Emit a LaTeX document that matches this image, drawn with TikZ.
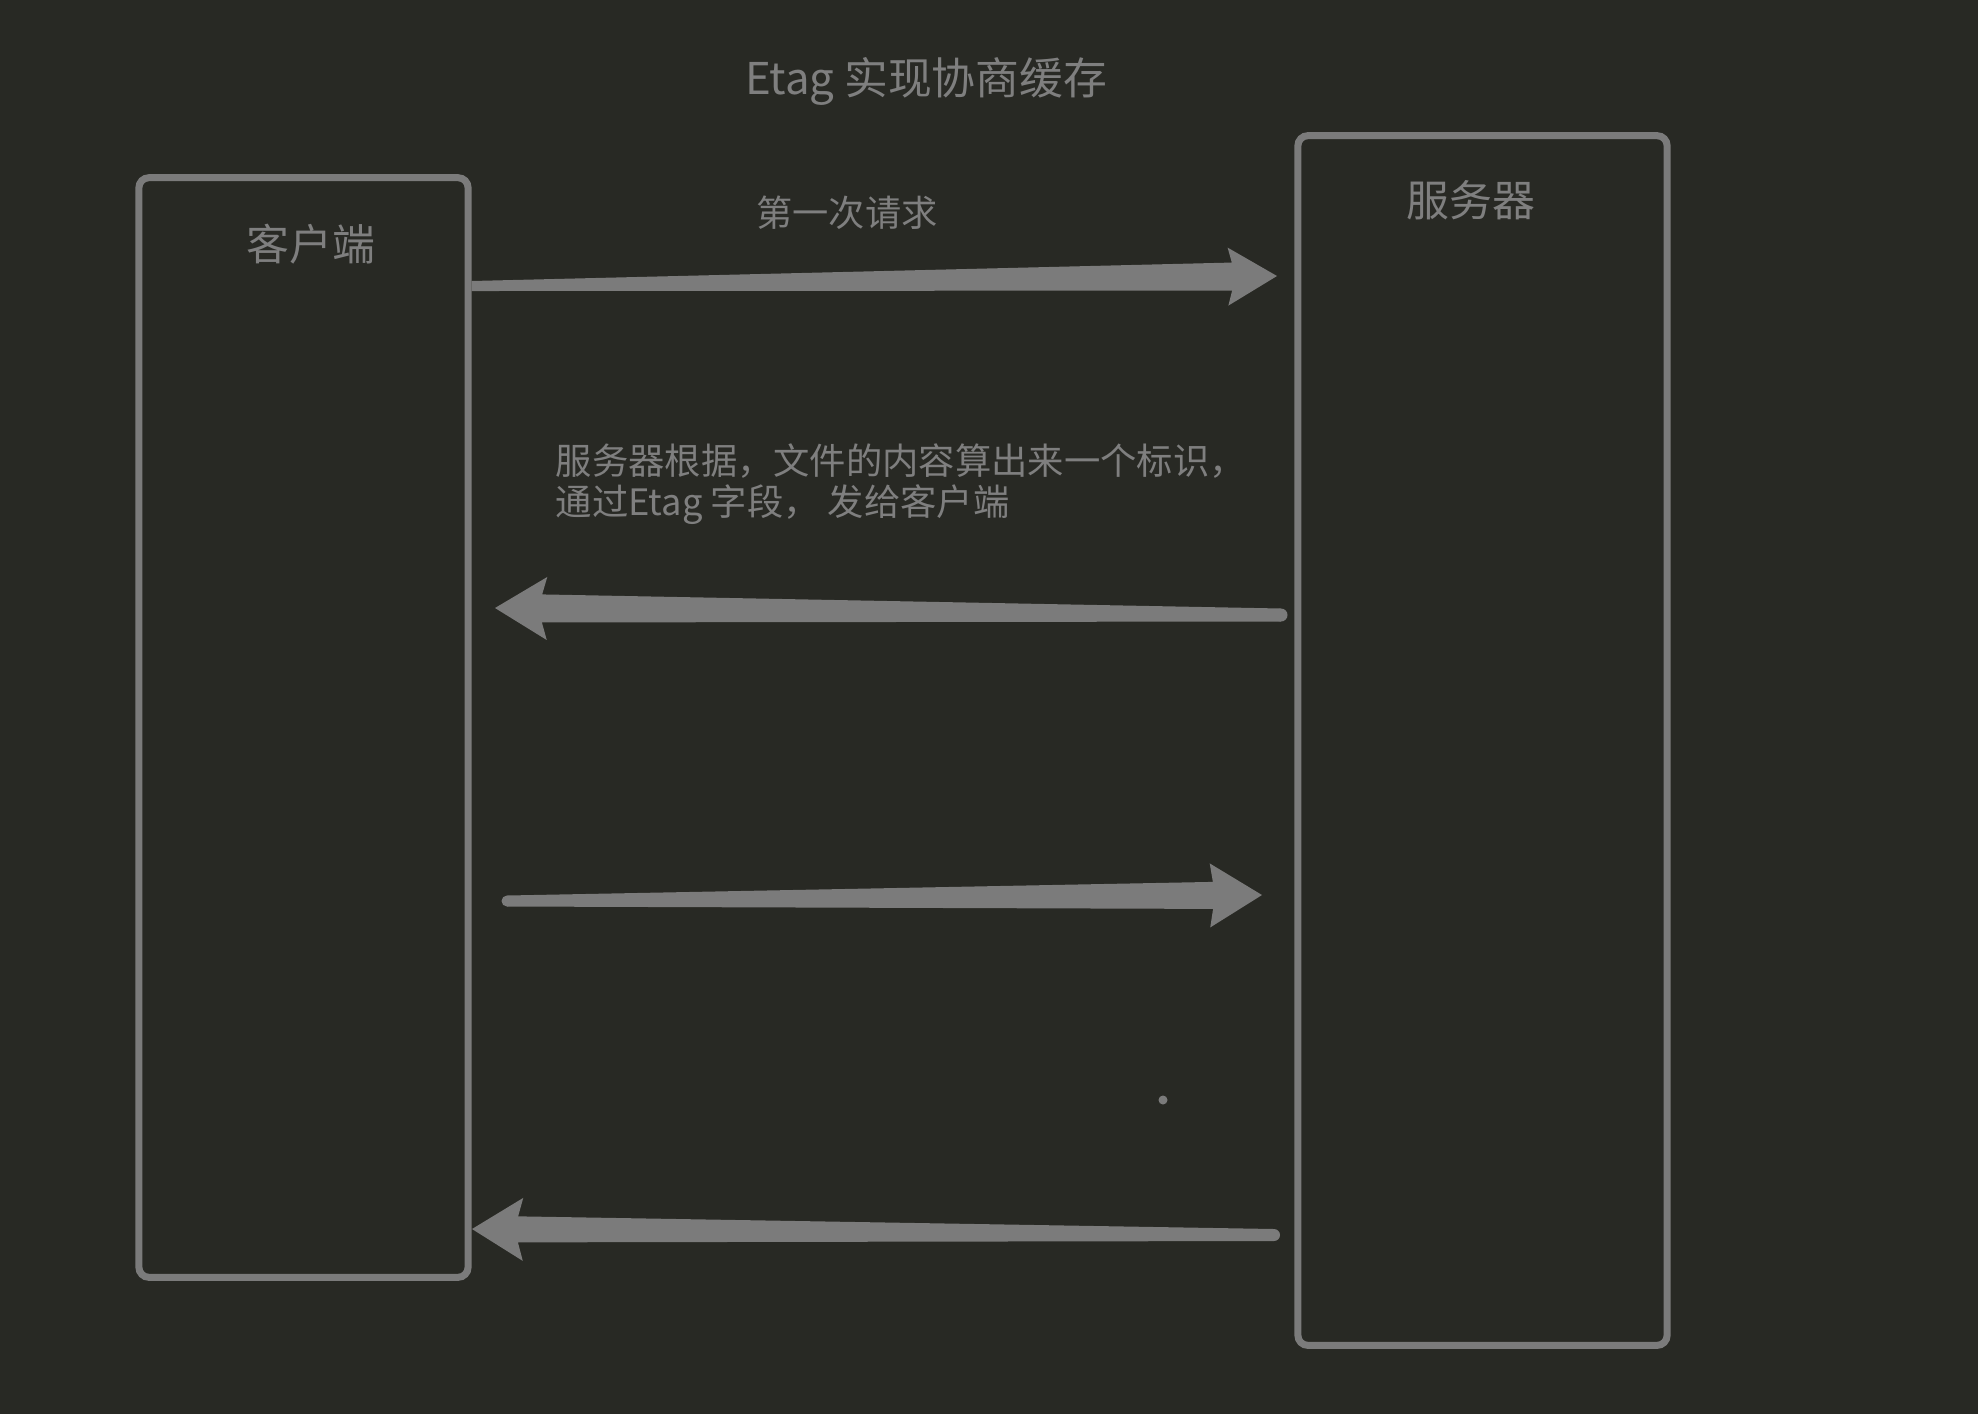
\documentclass[tikz,border=0pt]{standalone}
\usepackage{fontspec}
\setmainfont{Noto Sans CJK SC}
\usetikzlibrary{calc}
\definecolor{bgcol}{HTML}{282924}
\definecolor{linegray}{HTML}{7B7B7B}
\definecolor{textgray}{HTML}{7F7F7F}
\tikzset{
  boxshape/.style={draw=linegray, line width=0.07cm, rounded corners=0.1cm, inner sep=0pt},
  arrowfill/.style={fill=linegray},
  lbl/.style={text=textgray, inner sep=0pt},
}
% #1 tail, #2 tip, #3 tail half width, #4 shaft half width at head,
% #5 head half width, #6 tip to shaft join, #7 tip to head corners
\newcommand\taparrow[7]{%
  \coordinate (tmph) at ($(#2)!#6!(#1)$);
  \coordinate (tmpc) at ($(#2)!#7!(#1)$);
  \fill[arrowfill] ($(#1)!#3!90:(#2)$) -- ($(tmph)!#4!90:(#2)$)
    -- ($(tmpc)!#5!90:(#2)$) -- (#2) -- ($(tmpc)!#5!-90:(#2)$)
    -- ($(tmph)!#4!-90:(#2)$) -- ($(#1)!#3!-90:(#2)$) -- cycle;
}
\begin{document}
\begin{tikzpicture}[x=0.01cm, y=-0.01cm]
  \fill[bgcol] (0,0) rectangle (1978,1414);
  \useasboundingbox (0,0) rectangle (1978,1414);

  % title
  \node[lbl, anchor=base, font=\fontsize{12.45pt}{14pt}\selectfont] (title) at (926,94) {Etag 实现协商缓存};

  % boxes
  \node[boxshape, minimum width=3.29cm, minimum height=10.99cm] (client) at (303.5,727.5) {};
  \node[boxshape, minimum width=3.69cm, minimum height=12.09cm] (server) at (1482.5,740.5) {};

  \node[lbl, anchor=base, font=\fontsize{12.2pt}{14pt}\selectfont] (clientlbl) at (311,260) {客户端};
  \node[lbl, anchor=base, font=\fontsize{12.2pt}{14pt}\selectfont] (serverlbl) at (1471,216) {服务器};

  % labels
  \node[lbl, anchor=base, font=\fontsize{10.3pt}{12pt}\selectfont] (req1) at (847,226) {第一次请求};
  \node[lbl, anchor=base west, font=\fontsize{10.33pt}{12pt}\selectfont] (resp1a) at (555,474) {服务器根据，文件的内容算出来一个标识，};
  \node[lbl, anchor=base west, font=\fontsize{10.33pt}{12pt}\selectfont] (resp1b) at (555,515) {通过Etag 字段， 发给客户端};

  % arrow end points
  \coordinate (a1s) at (client.east |- 0,286);
  \coordinate (a1e) at (1277,276);
  \coordinate (a2s) at (1281,615);
  \coordinate (a2e) at (495,608);
  \coordinate (a3s) at (507,901);
  \coordinate (a3e) at (1262,895);
  \coordinate (a4s) at (1274,1235);
  \coordinate (a4e) at (472,1229);

  % arrows
  \taparrow{a1s}{a1e}{0.05cm}{0.14cm}{0.29cm}{0.45cm}{0.49cm}
  \taparrow{a2s}{a2e}{0.065cm}{0.14cm}{0.315cm}{0.47cm}{0.52cm}
  \fill[arrowfill] (a2s) circle[radius=0.065cm];
  \taparrow{a3s}{a3e}{0.055cm}{0.135cm}{0.32cm}{0.49cm}{0.52cm}
  \fill[arrowfill] (a3s) circle[radius=0.055cm];
  \taparrow{a4s}{a4e}{0.06cm}{0.13cm}{0.315cm}{0.46cm}{0.51cm}
  \fill[arrowfill] (a4s) circle[radius=0.06cm];

  % stray dot
  \fill[linegray] (1163,1100) circle[radius=0.045cm];
\end{tikzpicture}
\end{document}
